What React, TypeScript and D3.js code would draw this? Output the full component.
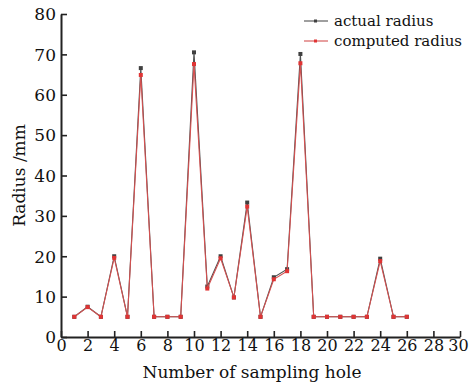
import { useEffect, useRef } from 'react';
import * as d3 from 'd3';

// hole numbers 1..26
const holes = [1, 2, 3, 4, 5, 6, 7, 8, 9, 10, 11, 12, 13, 14, 15, 16, 17, 18, 19, 20, 21, 22, 23, 24, 25, 26];

const actualRadius = [5, 7.5, 5, 20, 5, 66.6, 5, 5, 5, 70.5, 12.5, 20, 9.8, 33.3, 5, 14.8, 16.8, 70.1, 5, 5, 5, 5, 5, 19.4, 5, 5];

const computedRadius = [5, 7.4, 5, 19.6, 5, 64.9, 5, 5, 5, 67.6, 12, 19.5, 9.8, 32.3, 5, 14.3, 16.3, 67.8, 5, 5, 5, 5, 5, 18.8, 5, 5];

const xTicks = [0, 2, 4, 6, 8, 10, 12, 14, 16, 18, 20, 22, 24, 26, 28, 30];
const yTicks = [0, 10, 20, 30, 40, 50, 60, 70, 80];

const FONT = "'DejaVu Serif', 'Liberation Serif', serif";

const App = () => {
  const svgRef = useRef<SVGSVGElement>(null);

  useEffect(() => {
    const width = 469;
    const height = 383;
    const margin = { top: 14, right: 9, bottom: 46, left: 61 };

    const svg = d3.select(svgRef.current);
    svg.selectAll('*').remove();
    svg.attr('width', width).attr('height', height);

    svg.append('rect').attr('width', width).attr('height', height).attr('fill', '#fff');

    const x = d3.scaleLinear().domain([0, 30]).range([margin.left, width - margin.right]);
    const y = d3.scaleLinear().domain([0, 80]).range([height - margin.bottom, margin.top]);

    // axes (ticks point inward)
    const xAxis = svg
      .append('g')
      .attr('transform', `translate(0,${height - margin.bottom})`)
      .call(d3.axisBottom(x).tickValues(xTicks).tickSize(-6).tickSizeOuter(0).tickPadding(3));

    const yAxis = svg
      .append('g')
      .attr('transform', `translate(${margin.left},0)`)
      .call(d3.axisLeft(y).tickValues(yTicks).tickSize(-6).tickSizeOuter(0).tickPadding(5));

    [xAxis, yAxis].forEach((g) => {
      g.attr('font-family', null).attr('font-size', null);
      g.select('.domain').attr('stroke', '#222').attr('stroke-width', 2);
      g.selectAll('.tick line').attr('stroke', '#222').attr('stroke-width', 1.6);
      g.selectAll('.tick text')
        .attr('fill', '#111')
        .style('font-family', FONT)
        .style('font-size', '17px');
    });
    xAxis.selectAll('.tick text').style('font-size', '16px');
    yAxis.selectAll('.tick text').attr('dy', '0.34em');
    // keep the last x label inside the picture
    xAxis
      .selectAll<SVGTextElement, number>('.tick text')
      .filter((d) => d === 30)
      .attr('dx', -2);

    // axis titles
    svg
      .append('text')
      .attr('x', 252)
      .attr('y', 378)
      .attr('text-anchor', 'middle')
      .style('font-family', FONT)
      .style('font-size', '17px')
      .attr('fill', '#111')
      .text('Number of sampling hole');

    svg
      .append('text')
      .attr('transform', `translate(25,${(margin.top + height - margin.bottom) / 2}) rotate(-90)`)
      .attr('text-anchor', 'middle')
      .style('font-family', FONT)
      .style('font-size', '17px')
      .attr('fill', '#111')
      .text('Radius /mm');

    const series = [
      { name: 'actual radius', values: actualRadius, line: '#505050', marker: '#404040' },
      { name: 'computed radius', values: computedRadius, line: '#d45050', marker: '#e03434' },
    ];

    const line = d3
      .line<number>()
      .x((_, i) => x(holes[i]))
      .y((d) => y(d));

    series.forEach((s) => {
      svg
        .append('path')
        .datum(s.values)
        .attr('fill', 'none')
        .attr('stroke', s.line)
        .attr('stroke-width', 1.1)
        .attr('d', line);

      svg
        .append('g')
        .selectAll('rect')
        .data(s.values)
        .enter()
        .append('rect')
        .attr('x', (_, i) => x(holes[i]) - 2)
        .attr('y', (d) => y(d) - 2)
        .attr('width', 4)
        .attr('height', 4)
        .attr('fill', s.marker);
    });

    // legend
    const legend = svg.append('g').attr('transform', 'translate(304,21)');
    series.forEach((s, i) => {
      const row = legend.append('g').attr('transform', `translate(0,${i * 20})`);
      row.append('line').attr('x1', 0).attr('x2', 24).attr('stroke', s.line).attr('stroke-width', 1.1);
      row.append('rect').attr('x', 10).attr('y', -1.5).attr('width', 3).attr('height', 3).attr('fill', s.marker);
      row
        .append('text')
        .attr('x', 30)
        .attr('dy', '0.32em')
        .style('font-family', FONT)
        .style('font-size', '15px')
        .attr('fill', '#111')
        .text(s.name);
    });
  }, []);

  return <svg ref={svgRef} style={{ display: 'block', position: 'absolute', left: 0, top: 0 }}></svg>;
};

export default App;
